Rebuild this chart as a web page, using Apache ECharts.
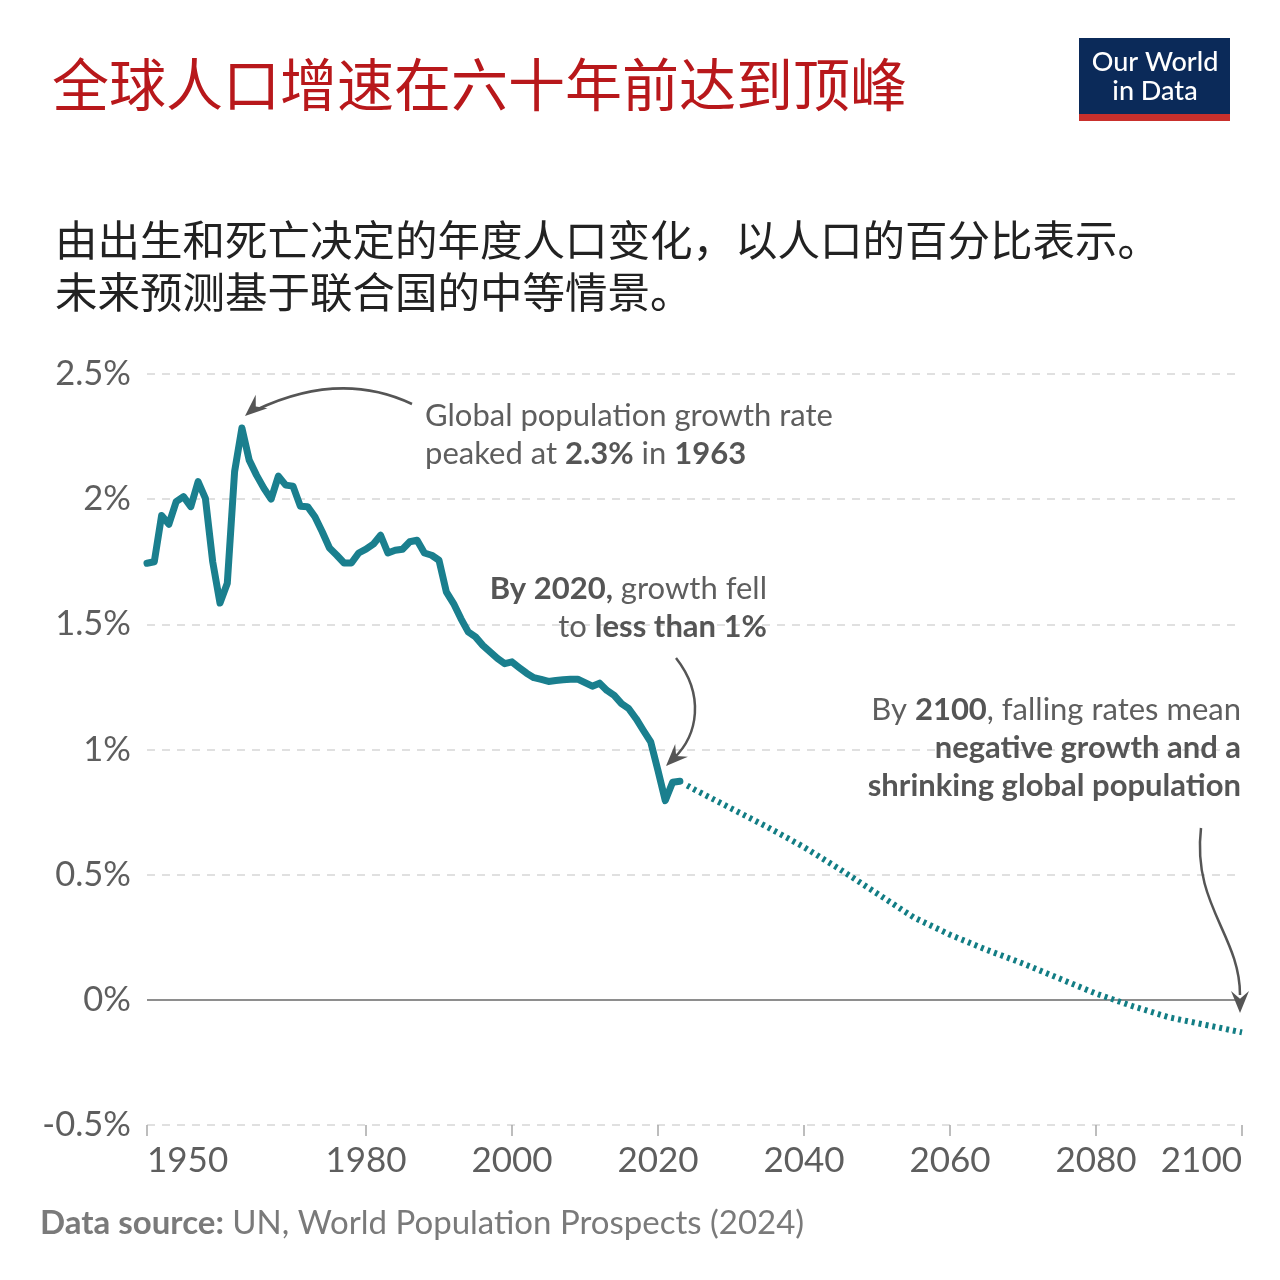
<!DOCTYPE html>
<html>
<head>
<meta charset="utf-8">
<script src="https://cdn.jsdelivr.net/npm/echarts@6/dist/echarts.min.js"></script>
<style>
html,body{margin:0;padding:0;background:#fff;}
#c{width:1280px;height:1280px;}
</style>
</head>
<body>
<div id="c"></div>
<script>
// ---- Data ----
const histYears = [1950,1951,1952,1953,1954,1955,1956,1957,1958,1959,
  1960,1961,1962,1963,1964,1965,1966,1967,1968,1969,
  1970,1971,1972,1973,1974,1975,1976,1977,1978,1979,
  1980,1981,1982,1983,1984,1985,1986,1987,1988,1989,
  1990,1991,1992,1993,1994,1995,1996,1997,1998,1999,
  2000,2001,2002,2003,2004,2005,2006,2007,2008,2009,
  2010,2011,2012,2013,2014,2015,2016,2017,2018,2019,
  2020,2021,2022,2023];
const histValues = [1.744,1.75,1.935,1.90,1.99,2.01,1.97,2.07,2.003,1.75,
  1.585,1.664,2.11,2.284,2.156,2.096,2.044,2.0,2.092,2.056,
  2.052,1.972,1.97,1.93,1.87,1.805,1.776,1.745,1.745,1.785,
  1.80,1.82,1.856,1.785,1.796,1.80,1.83,1.836,1.785,1.776,
  1.756,1.63,1.583,1.523,1.47,1.45,1.416,1.39,1.364,1.343,
  1.35,1.327,1.305,1.287,1.28,1.272,1.276,1.279,1.281,1.281,
  1.267,1.253,1.265,1.236,1.216,1.183,1.163,1.123,1.076,1.03,
  0.916,0.796,0.869,0.873];
const projYears  = [2024,2025,2030,2035,2040,2045,2050,2055,2060,2065,2070,2075,2080,2085,2090,2095,2100];
const projValues = [0.856,0.84,0.765,0.69,0.61,0.52,0.425,0.33,0.26,0.2,0.145,0.085,0.025,-0.025,-0.07,-0.10,-0.13];
const xTickValues = [1950,1980,2000,2020,2040,2060,2080,2100];
const yMin = -0.5, yMax = 2.5, yStep = 0.5;

const histData = histYears.map((y,i)=>[y,histValues[i]]);
const projData = projYears.map((y,i)=>[y,projValues[i]]);

const LAT = 'Lato, "Noto Sans", sans-serif';
const CJK = '"Noto Sans CJK SC", sans-serif';
const grey = '#5e5e5e';
const boldGrey = '#555555';

function arrowHead(tipX, tipY, fromX, fromY, len, half){
  const dx = tipX-fromX, dy = tipY-fromY;
  const d = Math.sqrt(dx*dx+dy*dy);
  const ux = dx/d, uy = dy/d;
  const bx = tipX-ux*len, by = tipY-uy*len;
  const bx2 = tipX-ux*len*0.65, by2 = tipY-uy*len*0.65;
  return {type:'polygon', shape:{points:[[tipX,tipY],[bx-uy*half,by+ux*half],[bx2,by2],[bx+uy*half,by-ux*half]]},
    style:{fill:'#555'}, z:100};
}

const annFont = '400 31px '+LAT, annBold = '700 31px '+LAT;
const annRich = {r:{font:annFont, fill:grey}, b:{font:annBold, fill:boldGrey}};

const chart = echarts.init(document.getElementById('c'), null, {renderer:'canvas'});
chart.setOption({
  backgroundColor:'#fff',
  animation:false,
  grid:{left:147,right:38,top:374,bottom:155,containLabel:false},
  xAxis:{
    type:'value', min:1950, max:2100,
    axisLine:{show:false, onZero:false},
    splitLine:{show:false},
    axisTick:{show:true, customValues:xTickValues, length:11, lineStyle:{color:'#a8a8a8',width:1.5}},
    axisLabel:{customValues:xTickValues, formatter:v=>String(v), fontFamily:LAT, fontSize:35,
      color:grey, margin:18, alignMinLabel:'left', alignMaxLabel:'right'}
  },
  yAxis:{
    type:'value', min:yMin, max:yMax, interval:yStep,
    axisLine:{show:false}, axisTick:{show:false},
    splitLine:{show:true, lineStyle:{color:'#d6d6d6', type:[8,7], width:1.5}},
    axisLabel:{formatter:v=>(Math.round(v*10)/10)+'%', fontFamily:LAT, fontSize:34.5, color:grey, margin:16}
  },
  series:[
    {type:'line', data:histData, symbol:'none', z:3,
      lineStyle:{color:'#1a7f8e', width:7, join:'round', cap:'round'},
      markLine:{silent:true, symbol:'none', label:{show:false}, z:1,
        lineStyle:{color:'#8e8e8e', type:'solid', width:2},
        data:[{yAxis:0}]}
    },
    {type:'line', data:projData, symbol:'none', z:4,
      lineStyle:{color:'#127d84', width:6, type:[3,4], cap:'butt'}}
  ],
  graphic:[
    {type:'text', left:52, top:56, style:{text:'全球人口增速在六十年前达到顶峰', font:'400 57px '+CJK, fill:'#b8181b'}},
    {type:'text', left:55, top:214, style:{text:'由出生和死亡决定的年度人口变化，以人口的百分比表示。\n未来预测基于联合国的中等情景。',
      font:'400 42.5px '+CJK, fill:'#222', lineHeight:52}},
    // logo
    {type:'rect', shape:{x:1079,y:38,width:151,height:77}, style:{fill:'#0b2a59'}},
    {type:'rect', shape:{x:1079,y:114,width:151,height:7}, style:{fill:'#c9302c'}},
    {type:'text', x:1155, y:62, style:{text:'Our World', font:'500 27px '+LAT, fill:'#fff', align:'center', verticalAlign:'middle'}},
    {type:'text', x:1155, y:91, style:{text:'in Data', font:'500 27px '+LAT, fill:'#fff', align:'center', verticalAlign:'middle'}},
    // annotation 1
    {type:'text', x:425, y:397, z:100, style:{text:'{r|Global population growth rate}\n{r|peaked at }{b|2.3%}{r| in }{b|1963}',
      font:annFont, fill:grey, verticalAlign:'top', lineHeight:38, rich:annRich}},
    // annotation 2
    {type:'text', x:767, y:570, z:100, style:{text:'{b|By 2020,}{r| growth fell}\n{r|to }{b|less than 1%}',
      font:annFont, fill:grey, align:'right', verticalAlign:'top', lineHeight:38, rich:annRich}},
    // annotation 3
    {type:'text', x:1241, y:691, z:100, style:{text:'{r|By }{b|2100}{r|, falling rates mean}\n{b|negative growth and a}\n{b|shrinking global population}',
      font:annFont, fill:grey, align:'right', verticalAlign:'top', lineHeight:38, rich:annRich}},
    // arrows
    {type:'bezierCurve', shape:{x1:412,y1:404,cpx1:340,cpy1:370,x2:256,y2:410}, style:{stroke:'#555',lineWidth:2.5,fill:null}, z:100},
    arrowHead(245,416,268,396,22,9),
    {type:'bezierCurve', shape:{x1:676,y1:658,cpx1:705,cpy1:695,cpx2:698,cpy2:735,x2:674,y2:758}, style:{stroke:'#555',lineWidth:2.5,fill:null}, z:100},
    arrowHead(666,766,690,742,22,9),
    {type:'bezierCurve', shape:{x1:1201,y1:828,cpx1:1192,cpy1:905,cpx2:1240,cpy2:935,x2:1240,y2:995}, style:{stroke:'#555',lineWidth:2.5,fill:null}, z:100},
    arrowHead(1240,1013,1240,980,22,9),
    // footer
    {type:'text', x:40, y:1223, style:{text:'{b|Data source:}{r| UN, World Population Prospects (2024)}',
      font:'400 33px '+LAT, fill:'#7a7a7a', verticalAlign:'middle',
      rich:{r:{font:'400 33px '+LAT, fill:'#7a7a7a'}, b:{font:'700 33px '+LAT, fill:'#7a7a7a'}}}}
  ]
});
</script>
</body>
</html>
